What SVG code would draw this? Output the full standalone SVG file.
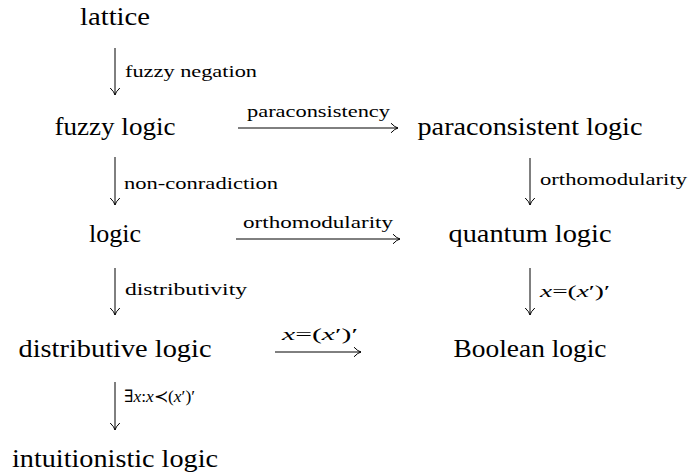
<svg xmlns="http://www.w3.org/2000/svg" width="689" height="474" viewBox="0 0 689 474">
<defs>
<style>
text{font-family:'Liberation Serif','Times New Roman',Times,'DejaVu Serif',serif}
.node{font-size:26px;fill:#000;text-anchor:middle}
.lab{font-size:17px;fill:#000}
.m{font-style:italic}
.conn line{stroke:#000;stroke-width:1;fill:none;marker-end:url(#tip)}
</style>
<marker id="tip" markerUnits="userSpaceOnUse" markerWidth="12" markerHeight="12" viewBox="-8 -6 10 12" refX="0" refY="0" orient="auto" overflow="visible">
<path d="M-7,-4.8 Q-3,-0.6 0,0 Q-3,0.6 -7,4.8" fill="none" stroke="#000" stroke-width="1"/>
</marker>
</defs>
<rect width="689" height="474" fill="#fff"/>
<g id="lattice"><text class="node" x="115" y="25" textLength="70" lengthAdjust="spacingAndGlyphs">lattice</text></g>
<g id="fuzzy-logic"><text class="node" x="115" y="135" textLength="121" lengthAdjust="spacingAndGlyphs">fuzzy logic</text></g>
<g id="paraconsistent-logic"><text class="node" x="530" y="135" textLength="225" lengthAdjust="spacingAndGlyphs">paraconsistent logic</text></g>
<g id="logic"><text class="node" x="115" y="242" textLength="52" lengthAdjust="spacingAndGlyphs">logic</text></g>
<g id="quantum-logic"><text class="node" x="530" y="242" textLength="163" lengthAdjust="spacingAndGlyphs">quantum logic</text></g>
<g id="distributive-logic"><text class="node" x="115" y="357" textLength="193" lengthAdjust="spacingAndGlyphs">distributive logic</text></g>
<g id="boolean-logic"><text class="node" x="530" y="357" textLength="153" lengthAdjust="spacingAndGlyphs">Boolean logic</text></g>
<g id="intuitionistic-logic"><text class="node" x="115" y="467" textLength="206" lengthAdjust="spacingAndGlyphs">intuitionistic logic</text></g>
<g id="connectors">
<g class="conn">
<line x1="115" y1="48" x2="115" y2="95"/>
<line x1="238" y1="128" x2="398" y2="128"/>
<line x1="115" y1="157" x2="115" y2="205"/>
<line x1="530" y1="158" x2="530" y2="205"/>
<line x1="236" y1="239" x2="400" y2="239"/>
<line x1="115" y1="268" x2="115" y2="315"/>
<line x1="530" y1="268" x2="530" y2="315"/>
<line x1="275" y1="352" x2="361" y2="352"/>
<line x1="115" y1="382" x2="115" y2="430"/>
</g>
<text class="lab" x="125" y="77" textLength="132" lengthAdjust="spacingAndGlyphs">fuzzy negation</text>
<text class="lab" x="247" y="117" textLength="143" lengthAdjust="spacingAndGlyphs">paraconsistency</text>
<text class="lab" x="124" y="189" textLength="154" lengthAdjust="spacingAndGlyphs">non-conradiction</text>
<text class="lab" x="540" y="185" textLength="147" lengthAdjust="spacingAndGlyphs">orthomodularity</text>
<text class="lab" x="243" y="228" textLength="150" lengthAdjust="spacingAndGlyphs">orthomodularity</text>
<text class="lab" x="125" y="295" textLength="122" lengthAdjust="spacingAndGlyphs">distributivity</text>
<text class="lab" x="540" y="297" textLength="70" lengthAdjust="spacingAndGlyphs"><tspan class="m">x</tspan>=(<tspan class="m">x</tspan>′)′</text>
<text class="lab" x="282" y="340" textLength="76" lengthAdjust="spacingAndGlyphs"><tspan class="m">x</tspan>=(<tspan class="m">x</tspan>′)′</text>
<text class="lab" x="124" y="402" textLength="71" lengthAdjust="spacingAndGlyphs">∃<tspan class="m">x</tspan>:<tspan class="m">x</tspan>≺(<tspan class="m">x</tspan>′)′</text>
</g>
</svg>
